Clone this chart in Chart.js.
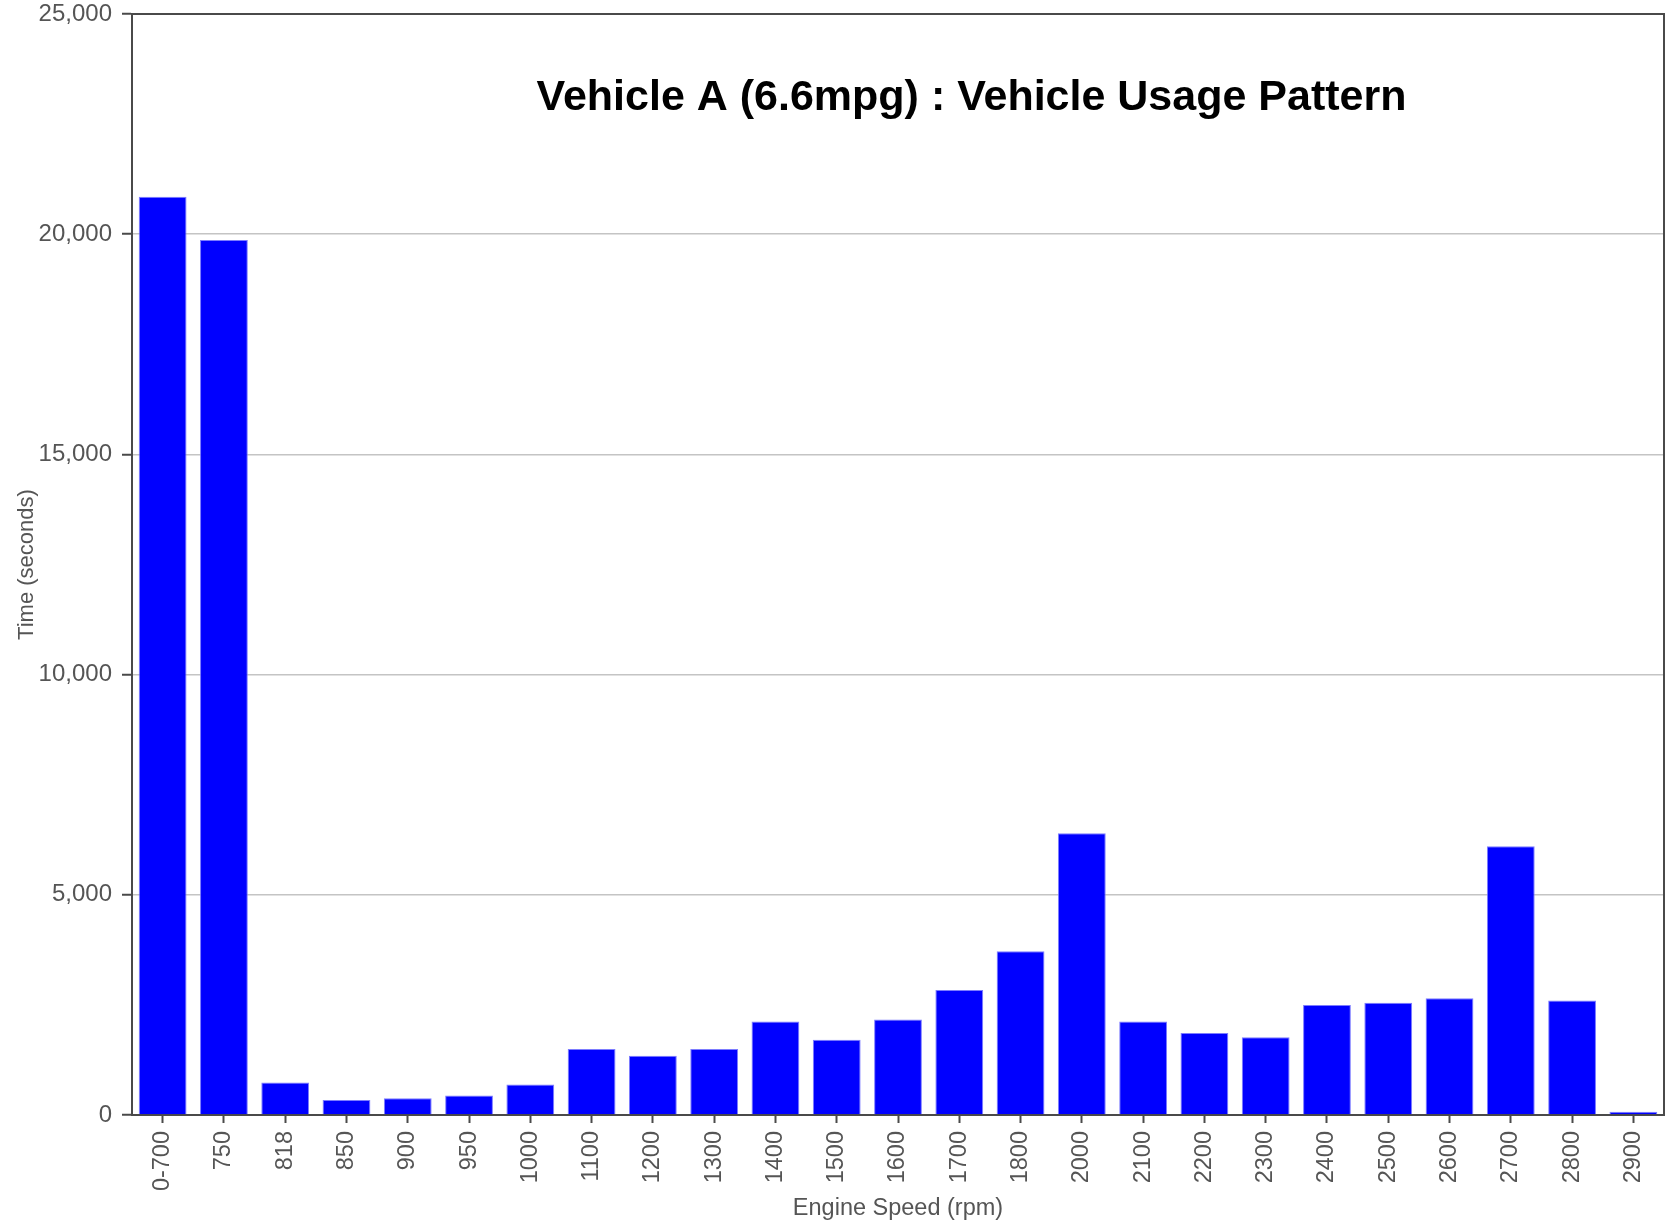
<!DOCTYPE html>
<html>
<head>
<meta charset="utf-8">
<title>Vehicle Usage Pattern</title>
<script src="https://cdn.jsdelivr.net/npm/chart.js@4"></script>
<style>
  html, body { margin: 0; padding: 0; background: #fff; }
  #wrap { width: 1675px; height: 1225px; }
</style>
</head>
<body>
<div id="wrap"><canvas id="usageChart" width="1675" height="1225"></canvas></div>
<script>
const engineSpeeds = ['0-700', '750', '818', '850', '900', '950', '1000', '1100', '1200', '1300',
  '1400', '1500', '1600', '1700', '1800', '2000', '2100', '2200', '2300', '2400',
  '2500', '2600', '2700', '2800', '2900'];
const timeSeconds = [20850, 19870, 740, 340, 380, 440, 690, 1500, 1345, 1500,
  2125, 1710, 2170, 2840, 3720, 6395, 2125, 1862, 1765, 2495,
  2550, 2650, 6100, 2600, 75];
const yTicks = [0, 5000, 10000, 15000, 20000, 25000];

const chartTitle = 'Vehicle A (6.6mpg) : Vehicle Usage Pattern';
const axisColor = '#4a4a4a';
const labelColor = '#555';
const fontFamily = '"Liberation Sans", Arial, sans-serif';

// top/right frame lines and the title that sits inside the plot
const framePlugin = {
  id: 'frame',
  afterDraw(chart) {
    const { ctx, chartArea } = chart;
    ctx.save();
    ctx.strokeStyle = axisColor;
    ctx.lineWidth = 2;
    ctx.beginPath();
    ctx.moveTo(chartArea.left, chartArea.top);
    ctx.lineTo(chartArea.right, chartArea.top);
    ctx.lineTo(chartArea.right, chartArea.bottom);
    ctx.stroke();

    ctx.fillStyle = '#000';
    ctx.font = 'bold 43px ' + fontFamily;
    ctx.textAlign = 'center';
    ctx.textBaseline = 'middle';
    ctx.fillText(chartTitle, chartArea.left + chartArea.width * 0.548, chartArea.top + 84);
    ctx.restore();
  }
};

const ctx = document.getElementById('usageChart').getContext('2d');
new Chart(ctx, {
  type: 'bar',
  data: {
    labels: engineSpeeds,
    datasets: [{
      data: timeSeconds,
      backgroundColor: 'rgb(0, 0, 255)',
      borderColor: 'rgba(110, 110, 255, 0.9)',
      borderWidth: 1,
      categoryPercentage: 1,
      barPercentage: 0.78
    }]
  },
  options: {
    responsive: false,
    animation: false,
    layout: { padding: { top: 14, right: 11, left: 0, bottom: 0 } },
    plugins: {
      legend: { display: false },
      tooltip: { enabled: false }
    },
    scales: {
      x: {
        afterFit: (scale) => { scale.height = 110; },
        grid: {
          offset: false,
          drawOnChartArea: false,
          drawTicks: true,
          tickLength: 8,
          tickColor: axisColor,
          tickWidth: 2
        },
        border: { color: axisColor, width: 2 },
        ticks: {
          minRotation: 90,
          maxRotation: 90,
          autoSkip: false,
          padding: 8,
          color: labelColor,
          font: { family: fontFamily, size: 23.5 }
        },
        title: {
          display: true,
          text: 'Engine Speed (rpm)',
          color: labelColor,
          padding: { top: 0, bottom: 2 },
          font: { family: fontFamily, size: 23.5 }
        }
      },
      y: {
        min: 0,
        max: 25000,
        afterFit: (scale) => { scale.width = 132; },
        afterBuildTicks: (scale) => { scale.ticks = yTicks.map(v => ({ value: v })); },
        grid: {
          color: (c) => (c.tick && (c.tick.value === 0 || c.tick.value === 25000)) ? 'rgba(0,0,0,0)' : '#c4c4c4',
          lineWidth: 1.5,
          tickLength: 10,
          tickColor: axisColor,
          tickWidth: 2
        },
        border: { color: axisColor, width: 2 },
        ticks: {
          padding: 10,
          color: labelColor,
          // small lineHeight keeps the top label from pushing the plot down
          font: { family: fontFamily, size: 24, lineHeight: 0.3 },
          callback: (v) => Number(v).toLocaleString('en-US')
        },
        title: {
          display: true,
          text: 'Time (seconds)',
          color: labelColor,
          padding: { top: 14, bottom: 0 },
          font: { family: fontFamily, size: 22 }
        }
      }
    }
  },
  plugins: [framePlugin]
});
</script>
</body>
</html>
